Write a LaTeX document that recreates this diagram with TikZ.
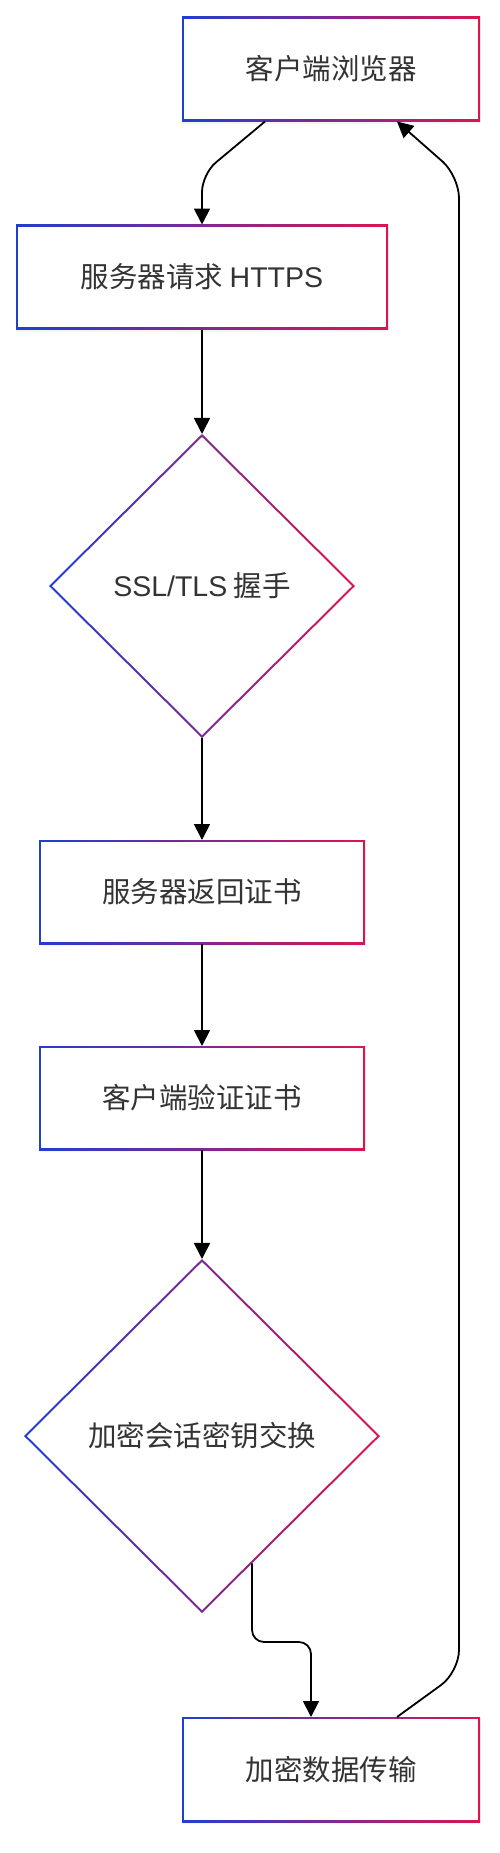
\documentclass[tikz,border=0pt]{standalone}
\usepackage{fontspec}
\setmainfont{Noto Sans CJK SC}
\newfontfamily\lat{Liberation Sans}
\usetikzlibrary{shapes.geometric,arrows.meta,shadows,calc}

\definecolor{edgeblue}{RGB}{31,63,208}
\definecolor{edgered}{RGB}{220,20,80}
\definecolor{inkgray}{RGB}{51,51,51}

\tikzset{
    flow/.style={-{Triangle[length=16pt,width=16pt]},line width=1.8pt,black,rounded corners=12pt},
    stepbox/.style={rectangle,minimum width=298pt,minimum height=105pt,inner sep=0pt,outer sep=0pt,
        left color=edgeblue,right color=edgered,
        drop shadow={shadow xshift=0pt,shadow yshift=-2pt,opacity=0.08},
        path picture={\fill[white] ([shift={(2.2pt,-2.2pt)}]path picture bounding box.north west)
            rectangle ([shift={(-2.2pt,2.2pt)}]path picture bounding box.south east);}},
    checkbox/.style={diamond,inner sep=0pt,outer sep=0pt,
        left color=edgeblue,right color=edgered,
        path picture={\fill[white] ([yshift=-3pt]path picture bounding box.north)
            -- ([xshift=-3pt]path picture bounding box.east)
            -- ([yshift=3pt]path picture bounding box.south)
            -- ([xshift=3pt]path picture bounding box.west) -- cycle;}}
}

\begin{document}
\begin{tikzpicture}[x=1pt,y=1pt,font=\fontsize{28.5}{34}\selectfont,text=inkgray]

    \useasboundingbox (0,0) rectangle (500,-1853);

    \node[stepbox] (client) at (331,-69) {客户端浏览器};
    \node[stepbox, minimum width=372pt] (request) at (202,-277) {服务器请求 {\lat HTTPS}};
    \node[checkbox, minimum width=306pt, minimum height=304pt] (hand) at (202,-586) {{\lat SSL/TLS} 握手};
    \node[stepbox, minimum width=326pt, minimum height=104pt] (cert) at (202,-892) {服务器返回证书};
    \node[stepbox, minimum width=326pt, minimum height=104pt] (verify) at (202,-1098) {客户端验证证书};
    \node[checkbox, minimum width=356pt, minimum height=354pt] (exchange) at (202,-1436) {加密会话密钥交换};
    \node[stepbox] (data) at (331,-1769.5) {加密数据传输};

    % bends of the connectors
    \coordinate (downbend) at (202,-174);
    \coordinate (backtop) at (459,-176);
    \coordinate (backbottom) at (459,-1672);
    \coordinate (exitpt) at ($(exchange.south)!0.281!(exchange.east)$);

    \draw[flow, rounded corners=18pt] ([xshift=-66pt]client.south) -- (downbend) -- (request.north);
    \draw[flow] (request) -- (hand);
    \draw[flow] (hand) -- (cert);
    \draw[flow] (cert) -- (verify);
    \draw[flow] (verify) -- (exchange);
    \draw[flow] (exitpt) |- ([xshift=-20pt,yshift=75pt]data.north) -- ([xshift=-20pt]data.north);
    \draw[flow, rounded corners=22pt] ([xshift=66pt]data.north) -- (backbottom) -- (backtop) -- ([xshift=66pt]client.south);
\end{tikzpicture}
\end{document}
